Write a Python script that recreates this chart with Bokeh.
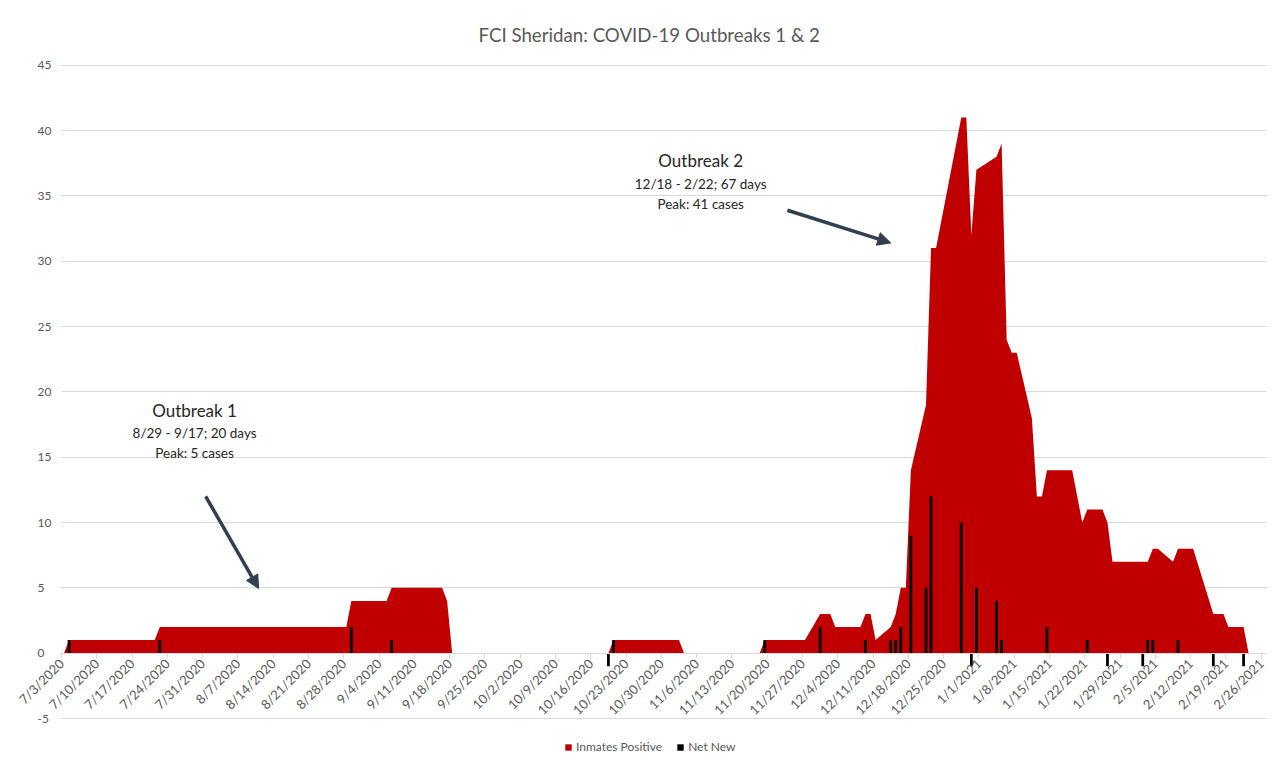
import numpy as np
from datetime import datetime, timedelta
from bokeh.plotting import figure
from bokeh.models import (FixedTicker, Legend, LegendItem, Label, Arrow, NormalHead,
                          ColumnDataSource, Range1d)
from bokeh.embed import file_html
from bokeh.resources import INLINE

# ---------------- data ----------------
positive_dates = [
    "2020-07-03", "2020-07-04", "2020-07-21", "2020-07-22", "2020-08-28", "2020-08-29",
    "2020-09-05", "2020-09-06", "2020-09-16", "2020-09-17", "2020-09-18",
    "2020-10-19", "2020-10-20", "2020-11-02", "2020-11-03",
    "2020-11-18", "2020-11-19", "2020-11-27", "2020-11-30", "2020-12-02", "2020-12-03",
    "2020-12-08", "2020-12-09", "2020-12-10", "2020-12-11", "2020-12-14", "2020-12-15",
    "2020-12-16", "2020-12-17", "2020-12-18", "2020-12-21", "2020-12-22", "2020-12-23",
    "2020-12-28", "2020-12-29", "2020-12-30", "2020-12-31", "2021-01-04", "2021-01-05",
    "2021-01-06", "2021-01-07", "2021-01-08", "2021-01-11", "2021-01-12", "2021-01-13",
    "2021-01-14", "2021-01-19", "2021-01-21", "2021-01-22", "2021-01-25", "2021-01-26",
    "2021-01-27", "2021-02-03", "2021-02-04", "2021-02-05", "2021-02-08", "2021-02-09",
    "2021-02-12", "2021-02-16", "2021-02-18", "2021-02-19", "2021-02-22", "2021-02-23",
]
inmates_positive = [
    0, 1, 1, 2, 2, 4,
    4, 5, 5, 4, 0,
    0, 1, 1, 0,
    0, 1, 1, 3, 3, 2,
    2, 3, 3, 1, 2, 3,
    5, 5, 14, 19, 31, 31,
    41, 41, 32, 37, 38, 39,
    24, 23, 23, 18, 12, 12,
    14, 14, 10, 11, 11, 10,
    7, 7, 8, 8, 7, 8,
    8, 3, 3, 2, 2, 0,
]

net_dates = [
    "2020-07-04", "2020-07-22", "2020-08-29", "2020-09-06", "2020-10-19", "2020-10-20",
    "2020-11-19", "2020-11-30", "2020-12-09", "2020-12-14", "2020-12-15", "2020-12-16",
    "2020-12-18", "2020-12-21", "2020-12-22", "2020-12-28", "2020-12-30", "2020-12-31",
    "2021-01-04", "2021-01-05", "2021-01-14", "2021-01-22", "2021-01-26", "2021-02-02",
    "2021-02-03", "2021-02-04", "2021-02-09", "2021-02-16", "2021-02-22",
]
net_new = [
    1, 1, 2, 1, -1, 1,
    1, 2, 1, 1, 1, 2,
    9, 5, 12, 10, -1, 5,
    4, 1, 2, 1, -1, -1,
    1, 1, 1, -1, -1,
]

tick_labels = [
    "7/3/2020", "7/10/2020", "7/17/2020", "7/24/2020", "7/31/2020", "8/7/2020",
    "8/14/2020", "8/21/2020", "8/28/2020", "9/4/2020", "9/11/2020", "9/18/2020",
    "9/25/2020", "10/2/2020", "10/9/2020", "10/16/2020", "10/23/2020", "10/30/2020",
    "11/6/2020", "11/13/2020", "11/20/2020", "11/27/2020", "12/4/2020", "12/11/2020",
    "12/18/2020", "12/25/2020", "1/1/2021", "1/8/2021", "1/15/2021", "1/22/2021",
    "1/29/2021", "2/5/2021", "2/12/2021", "2/19/2021", "2/26/2021",
]
y_ticks = [-5, 0, 5, 10, 15, 20, 25, 30, 35, 40, 45]

title_text = "FCI Sheridan: COVID-19 Outbreaks 1 & 2"
note1 = ["Outbreak 1", "8/29 - 9/17; 20 days", "Peak: 5 cases"]
note2 = ["Outbreak 2", "12/18 - 2/22; 67 days", "Peak: 41 cases"]

# ---------------- helpers ----------------
EPOCH = datetime(1970, 1, 1)
DAY = 86400000.0


def ms(dt):
    return (dt - EPOCH).total_seconds() * 1000.0


def day_center(s):
    # each date fills one day slot on the axis; its point sits at the slot centre
    return ms(datetime.strptime(s, "%Y-%m-%d") + timedelta(hours=12))


pos_x = [day_center(d) for d in positive_dates]
net_x = [day_center(d) for d in net_dates]
tick_x = [ms(datetime.strptime(t, "%m/%d/%Y")) for t in tick_labels]

start = datetime(2020, 7, 3)
end = datetime(2021, 2, 27)
T0 = ms(start)

# layout geometry (pixels)
PX_DAY = 5.0408          # horizontal scale
PX_UNIT = 13.066         # vertical scale
FRAME_W, FRAME_TOP, WIN_H = 1277, 50, 763
LEFT_PAD = 61            # px from frame left to 7/3
Y45_PX = 64.7            # window y of the 45 gridline

x0 = T0 - LEFT_PAD / PX_DAY * DAY
x1 = x0 + FRAME_W / PX_DAY * DAY
y_top = 45 + (Y45_PX - FRAME_TOP) / PX_UNIT
y_bot = y_top - (WIN_H - FRAME_TOP) / PX_UNIT

FONT = "Lato"
GRAY = "#595959"
RED = "#C00000"
GRID = "#d9d9d9"

p = figure(frame_width=FRAME_W, frame_height=WIN_H - FRAME_TOP, x_axis_type="datetime",
           y_axis_location="right",
           x_range=Range1d(x0, x1), y_range=Range1d(y_bot, y_top),
           output_backend="svg", toolbar_location=None,
           min_border_left=0, min_border_right=0, min_border_top=FRAME_TOP, min_border_bottom=0)

p.title.text = title_text
p.title.align = "left"
p.title.offset = 478
p.title.text_font = FONT
p.title.text_font_size = "18.7px"
p.title.text_font_style = "normal"
p.title.text_color = GRAY
p.title.standoff = 9

p.outline_line_color = None
p.background_fill_color = "white"
p.border_fill_color = "white"

src_pos = ColumnDataSource(dict(x=pos_x, y=inmates_positive))
src_net = ColumnDataSource(dict(x=net_x, top=net_new))

# grid lines, limited to the plotting span 7/3 .. 2/27
g = p.ygrid[0]
g.ticker = FixedTicker(ticks=y_ticks)
g.grid_line_color = GRID
g.grid_line_width = 1
if "cross_bounds" in g.properties():
    g.cross_bounds = (T0, ms(end))
else:
    g.visible = False
    p.segment(x0=T0, x1=ms(end), y0=y_ticks, y1=y_ticks, line_color=GRID,
              line_width=1, level="underlay")
p.xgrid.visible = False

r_area = p.varea(x="x", y1=0, y2="y", source=src_pos, fill_color=RED)
r_bar = p.vbar(x="x", top="top", bottom=0, width=0.55 * DAY, source=src_net,
               fill_color="black", line_color=None)

# x axis crossing at 0
xa = p.xaxis[0]
xa.fixed_location = 0
xa.bounds = (T0, ms(end))
xa.ticker = FixedTicker(ticks=tick_x)
xa.major_label_overrides = {t: lab for t, lab in zip(tick_x, tick_labels)}
xa.major_label_orientation = np.pi / 4
xa.major_label_text_font = FONT
xa.major_label_text_font_size = "13px"
xa.major_label_text_color = GRAY
xa.axis_line_color = GRID
xa.major_tick_line_color = GRID
xa.major_tick_in = 0
xa.major_tick_out = 5
xa.minor_tick_line_color = None
xa.major_label_standoff = 3

# y axis labels placed just left of the plotting span
ya = p.yaxis[0]
ya.fixed_location = T0 - (LEFT_PAD - 35) / PX_DAY * DAY
ya.ticker = FixedTicker(ticks=y_ticks)
ya.major_label_overrides = {v: str(v) for v in y_ticks}
ya.axis_line_color = None
ya.major_tick_line_color = None
ya.minor_tick_line_color = None
ya.major_tick_in = 0
ya.major_tick_out = 0
ya.major_label_text_font = FONT
ya.major_label_text_font_size = "12px"
ya.major_label_text_color = GRAY
ya.major_label_standoff = 2


def add_note(lines, xday, ytop):
    xm = T0 + xday * DAY
    sizes = ["17px", "13.5px", "13.5px"]
    offs = [0, 1.76, 3.29]
    for line, sz, off in zip(lines, sizes, offs):
        p.add_layout(Label(x=xm, y=ytop - off, text=line, text_font=FONT,
                           text_font_size=sz, text_color="#262626",
                           text_align="center", text_baseline="middle"))


add_note(note1, 26.4, 18.6)
add_note(note2, 126.8, 37.7)

ARROW = "#323f4f"
for (ax0, ay0, ax1, ay1) in [(28.6, 12.0, 39.1, 4.95), (144.0, 33.9, 164.5, 31.4)]:
    p.add_layout(Arrow(x_start=T0 + ax0 * DAY, y_start=ay0,
                       x_end=T0 + ax1 * DAY, y_end=ay1,
                       line_color=ARROW, line_width=3.5,
                       end=NormalHead(size=13, fill_color=ARROW, line_color=ARROW)))

legend = Legend(items=[LegendItem(label="Inmates Positive", renderers=[r_area]),
                       LegendItem(label="Net New", renderers=[r_bar])],
                orientation="horizontal", location=(564, 9),
                label_text_font=FONT, label_text_font_size="12px", label_text_color=GRAY,
                glyph_width=8, glyph_height=8, label_standoff=4, spacing=14,
                padding=2, margin=0, border_line_color=None, background_fill_alpha=0)
p.add_layout(legend, "center")

open("out.html", "w").write(file_html(p, INLINE))
